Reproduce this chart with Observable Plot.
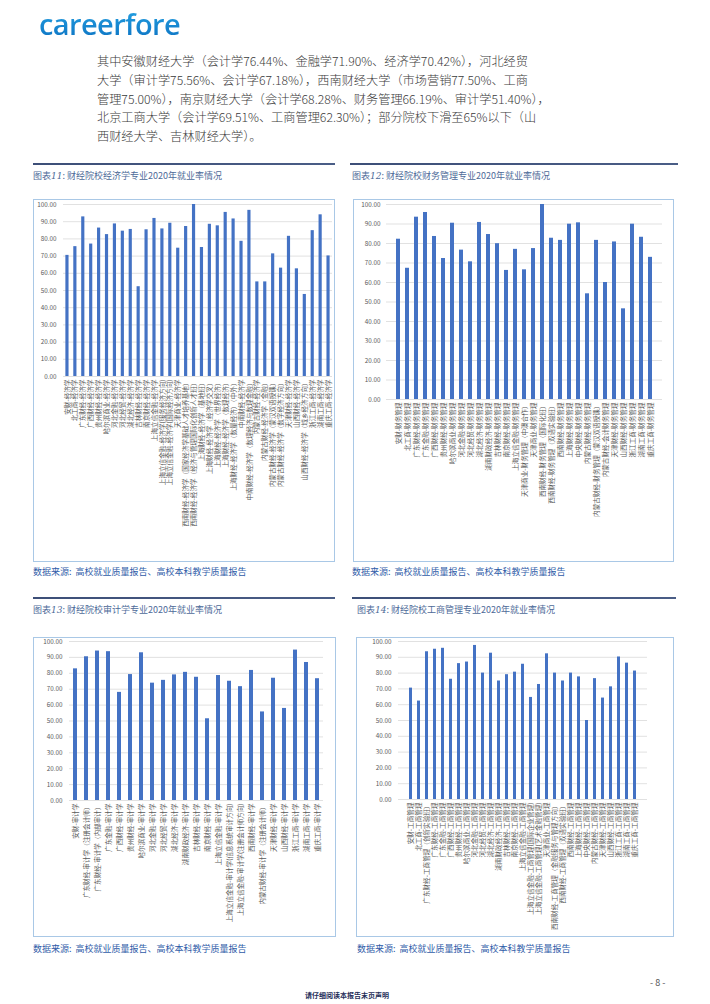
<!DOCTYPE html>
<html><head><meta charset="utf-8">
<script src="https://cdn.jsdelivr.net/npm/d3@7"></script>
<script src="https://cdn.jsdelivr.net/npm/@observablehq/plot@0.6"></script>
<style>
body{margin:0;background:#fff;width:710px;height:1004px;position:relative;overflow:hidden;font-family:"Noto Sans CJK SC",sans-serif;}
.abs{position:absolute;}
.logo{left:39px;top:4px;font-family:"Open Sans",sans-serif;font-weight:600;font-size:29px;letter-spacing:-0.6px;
  background:linear-gradient(180deg,#27a7e6,#0b6fc0);-webkit-background-clip:text;background-clip:text;color:transparent;}
.para{left:97px;top:52px;font-size:12.2px;line-height:18.8px;color:#3a3a3a;white-space:nowrap;font-weight:300}
.hline{height:2px;background:linear-gradient(90deg,#3d4f78,#4a5d86);}
.title{font-size:9px;color:#4d6a98;white-space:nowrap;line-height:1}
.title i{font-family:"DejaVu Serif",serif;font-size:9px}
.src{font-size:9px;color:#2f5ca8;white-space:nowrap;line-height:1}
.box{border:1px solid #a9c8e6;box-sizing:border-box;}
.chart svg{display:block}
</style></head>
<body>
<div class="abs logo">careerfore</div>
<div class="abs para">
<div>其中安徽财经大学（会计学76.44%、金融学71.90%、经济学70.42%），河北经贸</div>
<div>大学（审计学75.56%、会计学67.18%），西南财经大学（市场营销77.50%、工商</div>
<div>管理75.00%），南京财经大学（会计学68.28%、财务管理66.19%、审计学51.40%），</div>
<div>北京工商大学（会计学69.51%、工商管理62.30%）；部分院校下滑至65%以下（山</div>
<div>西财经大学、吉林财经大学）。</div>
</div>
<div class="abs" style="left:650px;top:976px;font-size:9px;color:#555">- 8 -</div>
<div class="abs" style="left:305px;top:990px;font-size:7px;font-weight:700;color:#1f2f5a">请仔细阅读本报告末页声明</div>
<script>
// ---- data ----
const econLabels = ["安财-经济学","北工商-经济学","广东财经-经济学","广西财经-经济学","贵州财经-经济学","哈尔滨商业-经济学","河北金融-经济学","河北经贸-经济学","湖北经济-经济学","吉林财经-经济学","南京财经-经济学","上海立信金融-经济学","上海立信金融-经济学(服务经济方向)","上海立信金融-经济学(国际经济方向)","天津商业-经济学","西南财经-经济学（国家经济学基础人才培养基地）","西南财经-经济学（经济与管理国际化创新人才班）","上海财经-经济学（基地班）","上海财经-经济学（经济学交叉）","上海财经-经济学（世界经济）","上海财经-经济学（数理经济）","上海财经-经济学（数量经济）（中外）","中南财经-经济学","中南财经-经济学（数理经济与数理金融）","内蒙古财经-经济学","内蒙古财经-经济学（金融）","内蒙古财经-经济学（蒙汉双语授课）","内蒙古财经-经济学（数字经济方向）","天津财经-经济学","山西财经-经济学","山西财经-经济学（城乡经济方向）","浙江工商-经济学","湖南工商-经济学","重庆工商-经济学"];
const econValues = [70.42,75.5,92.8,77,86.3,82.5,88.7,84.5,85.5,52.2,85.3,91.9,85.8,89.1,74.6,87.2,100,75,88.5,87.6,95.4,91.6,78.6,96.6,55,55,71.3,63,81.5,62.6,47.7,84.8,94,70.1];

const finLabels = ["安财-财务管理","北工商-财务管理","广东财经-财务管理","广东金融-财务管理","广西财经-财务管理","贵州财经-财务管理","哈尔滨商业-财务管理","河北金融-财务管理","河北经贸-财务管理","湖北经济-财务管理","湖南财政经济-财务管理","吉林财经-财务管理","南京财经-财务管理","上海立信金融-财务管理","天津商业-财务管理（中澳合作）","天津商业-财务管理","西南财经-财务管理（国际化班）","西南财经-财务管理（双语实验班）","西南财经-财务管理","上海财经-财务管理","中央财经-财务管理","内蒙古财经-财务管理","内蒙古财经-财务管理（蒙汉双语授课）","内蒙古财经-会计财务管理","天津财经-财务管理","山西财经-财务管理","浙江工商-财务管理","湖南工商-财务管理","重庆工商-财务管理"];
const finValues = [82.2,67.3,93.5,95.9,83.6,72.3,90.4,76.6,70.6,90.8,84.6,79.9,66.19,77,66.5,77.4,100,82.7,81.6,89.9,90.6,54.2,81.6,60,80.8,46.5,89.9,83.2,72.9];

const audLabels = ["安财-审计学","广东财经-审计学（注册会计师）","广东财经-审计学（内部审计）","广东金融-审计学","广西财经-审计学","贵州财经-审计学","哈尔滨商业-审计学","河北金融-审计学","河北经贸-审计学","湖北经济-审计学","湖南财政经济-审计学","吉林财经-审计学","南京财经-审计学","上海立信金融-审计学","上海立信金融-审计学(信息系统审计方向)","上海立信金融-审计学(注册会计师方向)","西南财经-审计学","内蒙古财经-审计学（注册会计师）","天津财经-审计学","山西财经-审计学","浙江工商-审计学","湖南工商-审计学","重庆工商-审计学"];
const audValues = [82.8,90.4,94,93.6,68,79.2,92.9,73.8,75.56,79,80.6,77.5,51.4,78.6,75,71.6,81.8,55.7,76.9,57.9,94.6,86.8,76.6];

const busLabels = ["安财-工商管理","北工商-工商管理","广东财经-工商管理（创新实验班）","广东财经-工商管理","广东金融-工商管理","广西财经-工商管理","贵州财经-工商管理","哈尔滨商业-工商管理","河北金融-工商管理","河北经贸-工商管理","湖北经济-工商管理","湖南财政经济-工商管理","吉林财经-工商管理","南京财经-工商管理","上海立信金融-工商管理","上海立信金融-工商管理(国际企业管理)","上海立信金融-工商管理(艺术金融管理)","天津商业-工商管理","西南财经-工商管理（金融服务与管理方向）","西南财经-工商管理（双语实验班）","西南财经-工商管理","上海财经-工商管理","中央财经-工商管理","内蒙古财经-工商管理","天津财经-工商管理","山西财经-工商管理","浙江工商-工商管理","湖南工商-工商管理","重庆工商-工商管理"];
const busValues = [70.5,62.3,93.5,95.1,95.7,76.1,86,87,97.5,80,92.6,75,79,80.6,85.6,64.6,72.8,92.2,80,75,80,77.6,50,76.5,64.2,71.3,90.2,86.3,81.3];

const yTicks = [0,10,20,30,40,50,60,70,80,90,100];

const charts = [
  {num:"11", name:"财经院校经济学专业2020年就业率情况", labels:econLabels, values:econValues,
   lineL:33, lineR:335, lineY:163, titleL:33, titleY:171, srcL:33, srcY:567,
   box:{l:33,t:199,w:302,h:363}, m:{t:5,b:186,l:30,r:3}, pad:7},
  {num:"12", name:"财经院校财务管理专业2020年就业率情况", labels:finLabels, values:finValues,
   lineL:350, lineR:678, lineY:163, titleL:352, titleY:171, srcL:352, srcY:567,
   box:{l:353,t:199,w:321,h:363}, m:{t:5,b:163,l:33,r:12}, pad:6},
  {num:"13", name:"财经院校审计学专业2020年就业率情况", labels:audLabels, values:audValues,
   lineL:33, lineR:335, lineY:597, titleL:33, titleY:605, srcL:33, srcY:944,
   box:{l:33,t:637,w:303,h:300}, m:{t:4,b:137,l:36,r:13}, pad:7},
  {num:"14", name:"财经院校工商管理专业2020年就业率情况", labels:busLabels, values:busValues,
   lineL:352, lineR:676, lineY:597, titleL:357, titleY:605, srcL:357, srcY:944,
   box:{l:356,t:637,w:318,h:300}, m:{t:4,b:138,l:42,r:27}, pad:7}
];

function add(html, style, cls){
  const d = document.createElement("div");
  d.className = "abs " + (cls||"");
  d.setAttribute("style", style);
  d.innerHTML = html;
  document.body.appendChild(d);
  return d;
}

for (const c of charts) {
  add("", `left:${c.lineL}px;top:${c.lineY}px;width:${c.lineR-c.lineL}px`, "hline");
  add(`图表<i>${c.num}</i>: ${c.name}`, `left:${c.titleL}px;top:${c.titleY}px`, "title");
  add("数据来源:&nbsp;&nbsp;高校就业质量报告、高校本科教学质量报告", `left:${c.srcL}px;top:${c.srcY}px`, "src");
  const idx = d3.range(c.values.length);
  const data = idx.map(i => ({i, v: c.values[i]}));
  const svg = Plot.plot({
    width: c.box.w, height: c.box.h,
    marginTop: c.m.t, marginBottom: c.m.b, marginLeft: c.m.l, marginRight: c.m.r,
    style: {fontFamily: "'Noto Sans CJK SC', sans-serif", background: "transparent", color: "#595959"},
    x: {type: "band", domain: idx, paddingInner: 0.6, paddingOuter: 0.3, axis: null},
    y: {domain: [0, 100], axis: null},
    marks: [
      Plot.gridY(yTicks, {stroke: "#d9d9d9", strokeOpacity: 1, strokeWidth: 0.8}),
      Plot.barY(data, {x: "i", y: "v", fill: "#4472c4"}),
      Plot.axisY(yTicks, {tickSize: 0, tickPadding: c.pad, tickFormat: d3.format(".2f"), fontSize: 6.3, fill: "#595959", label: null}),
      Plot.axisX(idx, {tickSize: 0, tickPadding: 3, tickRotate: -90, fontSize: 6.6, fill: "#595959", label: null,
        tickFormat: i => c.labels[i]})
    ]
  });
  const holder = add("", `left:${c.box.l}px;top:${c.box.t}px;width:${c.box.w}px;height:${c.box.h}px`, "chart");
  holder.appendChild(svg);
  add("", `left:${c.box.l}px;top:${c.box.t}px;width:${c.box.w}px;height:${c.box.h}px`, "box");
}
</script>
</body></html>
